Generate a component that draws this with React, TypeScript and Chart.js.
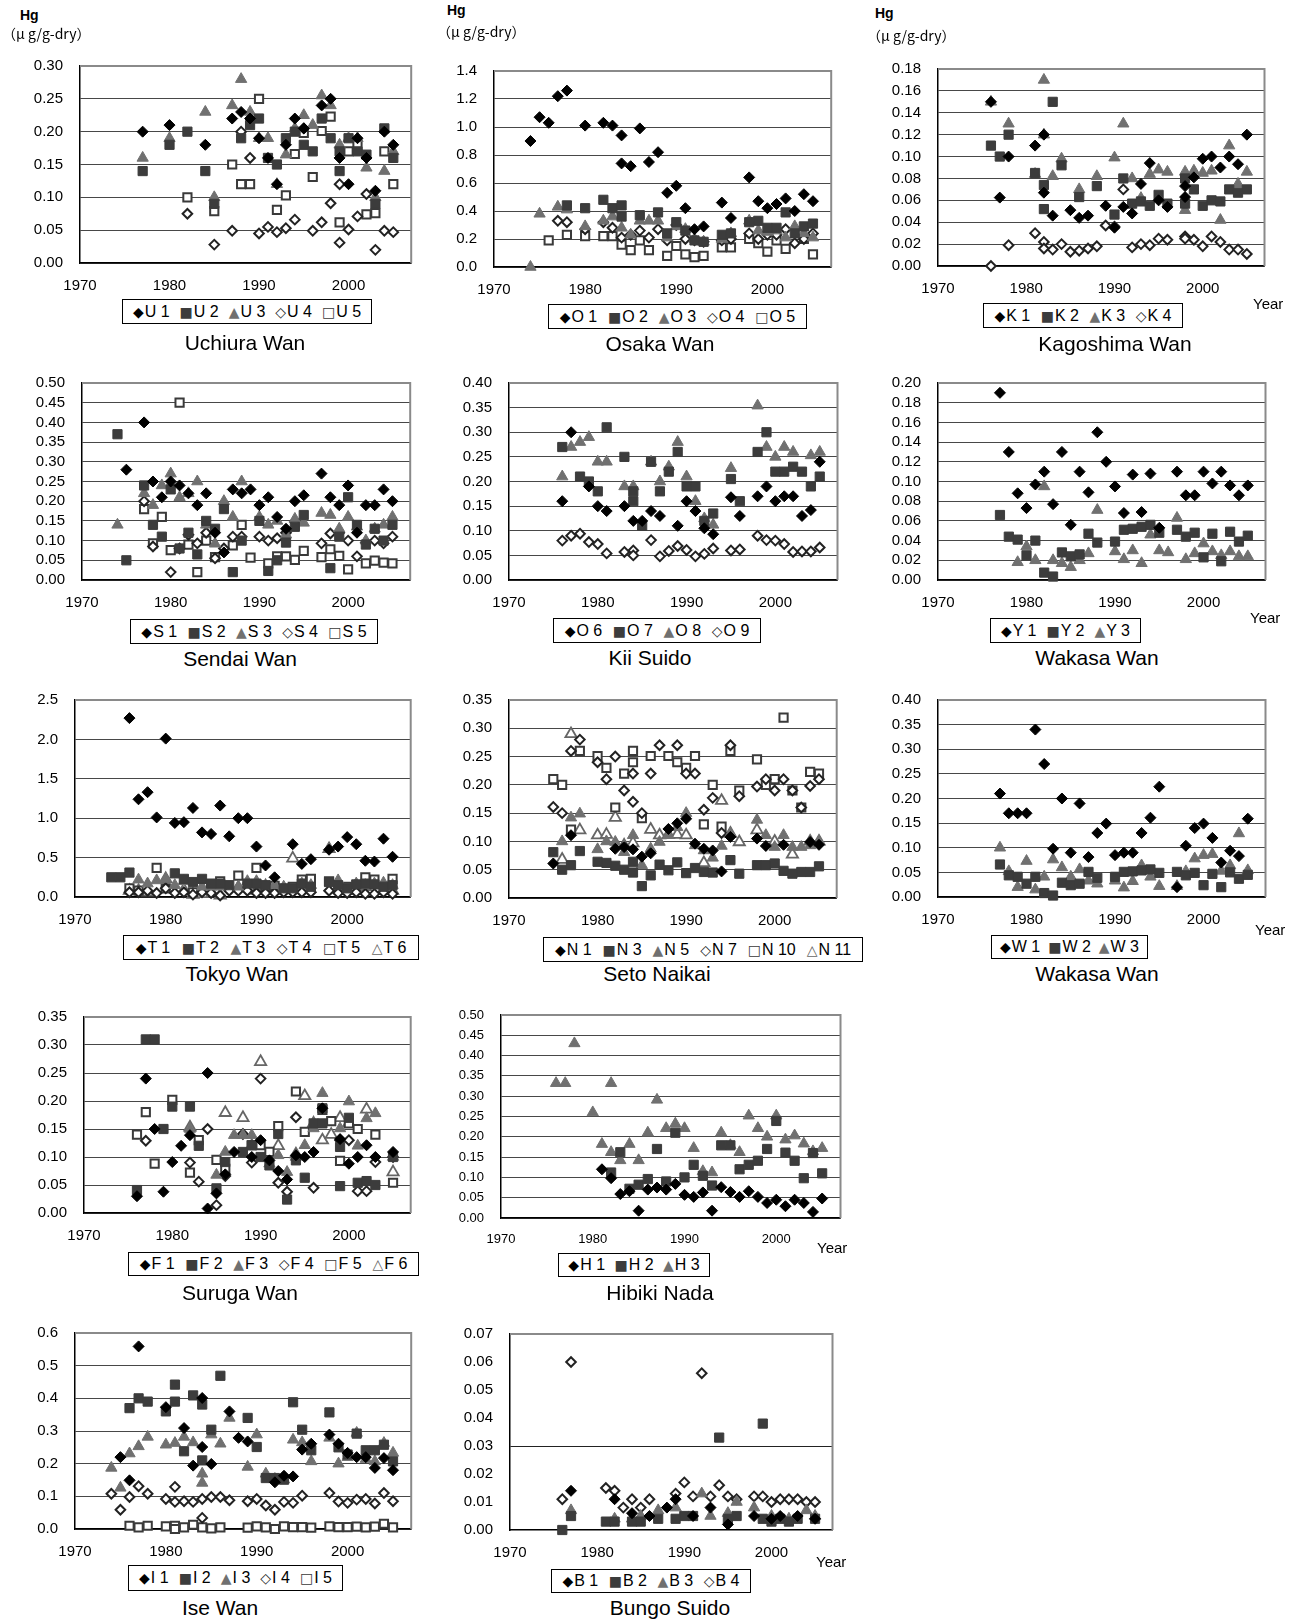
import React, { useEffect, useRef } from 'react';
import { Chart, registerables } from 'chart.js';

Chart.register(...registerables);

type Pt = [number, number];

// ---------- Uchiura Wan ----------
const U1: Pt[] = [[1977,0.20],[1980,0.21],[1984,0.18],[1987,0.22],[1988,0.23],[1989,0.22],[1990,0.19],[1991,0.16],[1992,0.12],[1993,0.18],[1994,0.22],[1995,0.205],[1997,0.24],[1998,0.25],[1999,0.16],[2000,0.12],[2001,0.19],[2002,0.16],[2003,0.11],[2004,0.20],[2005,0.18]];
const U2: Pt[] = [[1977,0.14],[1980,0.18],[1982,0.20],[1984,0.14],[1985,0.09],[1988,0.19],[1989,0.21],[1990,0.22],[1991,0.16],[1992,0.15],[1993,0.19],[1994,0.20],[1995,0.18],[1996,0.17],[1997,0.22],[1998,0.19],[1999,0.14],[1999,0.17],[2000,0.19],[2001,0.17],[2002,0.165],[2003,0.09],[2004,0.205],[2005,0.16]];
const U3: Pt[] = [[1977,0.16],[1980,0.19],[1984,0.23],[1985,0.10],[1987,0.24],[1988,0.28],[1989,0.23],[1990,0.19],[1991,0.19],[1992,0.12],[1993,0.165],[1994,0.205],[1995,0.225],[1996,0.21],[1997,0.255],[1998,0.24],[1999,0.18],[2000,0.19],[2001,0.19],[2002,0.145],[2003,0.10],[2004,0.14],[2005,0.17]];
const U4: Pt[] = [[1982,0.075],[1985,0.028],[1987,0.049],[1988,0.20],[1989,0.16],[1990,0.045],[1991,0.055],[1992,0.047],[1993,0.053],[1994,0.066],[1995,0.205],[1996,0.049],[1997,0.062],[1998,0.091],[1999,0.12],[1999,0.031],[2000,0.051],[2001,0.071],[2002,0.105],[2003,0.020],[2004,0.049],[2005,0.047]];
const U5: Pt[] = [[1982,0.10],[1985,0.079],[1987,0.15],[1988,0.12],[1989,0.12],[1990,0.25],[1992,0.081],[1993,0.103],[1994,0.166],[1995,0.198],[1996,0.131],[1997,0.201],[1998,0.223],[1999,0.062],[2000,0.17],[2001,0.18],[2002,0.074],[2003,0.076],[2004,0.17],[2005,0.12]];

// ---------- Osaka Wan ----------
const O1: Pt[] = [[1974,0.90],[1975,1.07],[1976,1.03],[1977,1.22],[1978,1.26],[1980,1.01],[1982,1.03],[1983,1.01],[1984,0.94],[1984,0.74],[1985,0.72],[1986,0.99],[1987,0.75],[1988,0.82],[1989,0.53],[1990,0.58],[1991,0.42],[1992,0.27],[1993,0.29],[1995,0.46],[1996,0.35],[1998,0.64],[1999,0.47],[2000,0.42],[2001,0.45],[2002,0.49],[2003,0.40],[2004,0.52],[2005,0.47]];
const O2: Pt[] = [[1978,0.44],[1980,0.42],[1982,0.48],[1983,0.42],[1984,0.44],[1984,0.36],[1986,0.37],[1988,0.39],[1989,0.24],[1990,0.32],[1991,0.26],[1992,0.19],[1993,0.18],[1995,0.23],[1996,0.24],[1998,0.32],[1999,0.33],[2000,0.28],[2001,0.28],[2002,0.39],[2003,0.24],[2004,0.29],[2005,0.31]];
const O3: Pt[] = [[1974,0.00],[1975,0.38],[1977,0.43],[1978,0.41],[1980,0.29],[1982,0.33],[1983,0.36],[1984,0.28],[1985,0.23],[1986,0.33],[1987,0.33],[1988,0.33],[1989,0.21],[1990,0.29],[1991,0.27],[1992,0.20],[1993,0.18],[1995,0.20],[1996,0.24],[1998,0.33],[1999,0.26],[2000,0.25],[2001,0.26],[2002,0.21],[2003,0.29],[2004,0.24],[2005,0.21]];
const O4: Pt[] = [[1977,0.33],[1978,0.32],[1980,0.27],[1982,0.32],[1983,0.28],[1984,0.21],[1985,0.23],[1986,0.26],[1987,0.21],[1988,0.27],[1989,0.19],[1990,0.30],[1991,0.20],[1992,0.19],[1993,0.18],[1995,0.19],[1996,0.20],[1998,0.24],[1999,0.20],[2000,0.23],[2001,0.23],[2002,0.27],[2003,0.17],[2004,0.20],[2005,0.24]];
const O5: Pt[] = [[1976,0.19],[1978,0.23],[1980,0.22],[1982,0.22],[1983,0.22],[1984,0.16],[1985,0.12],[1986,0.19],[1987,0.12],[1989,0.08],[1990,0.15],[1991,0.09],[1992,0.07],[1993,0.08],[1995,0.14],[1996,0.14],[1998,0.20],[1999,0.17],[2000,0.11],[2001,0.19],[2002,0.13],[2004,0.20],[2005,0.09]];

// ---------- Kagoshima Wan ----------
const K1: Pt[] = [[1976,0.15],[1977,0.0625],[1978,0.10],[1981,0.11],[1982,0.12],[1982,0.067],[1983,0.046],[1985,0.051],[1986,0.044],[1987,0.046],[1989,0.055],[1990,0.035],[1991,0.054],[1992,0.048],[1993,0.075],[1994,0.094],[1995,0.060],[1996,0.054],[1998,0.073],[1998,0.063],[1999,0.081],[2000,0.098],[2001,0.10],[2002,0.090],[2003,0.10],[2004,0.093],[2005,0.12]];
const K2: Pt[] = [[1976,0.11],[1977,0.10],[1978,0.12],[1981,0.085],[1982,0.074],[1982,0.052],[1983,0.15],[1984,0.092],[1986,0.063],[1988,0.073],[1990,0.047],[1991,0.080],[1992,0.057],[1993,0.059],[1994,0.055],[1995,0.065],[1996,0.057],[1998,0.057],[1998,0.080],[1999,0.070],[2000,0.055],[2001,0.060],[2002,0.059],[2003,0.070],[2004,0.067],[2005,0.070]];
const K3: Pt[] = [[1976,0.15],[1978,0.13],[1981,0.084],[1982,0.17],[1982,0.12],[1983,0.082],[1984,0.098],[1986,0.070],[1988,0.082],[1990,0.099],[1991,0.13],[1992,0.080],[1993,0.062],[1994,0.084],[1995,0.088],[1996,0.086],[1998,0.086],[1998,0.051],[1999,0.087],[2000,0.085],[2001,0.087],[2002,0.042],[2003,0.11],[2004,0.075],[2005,0.086]];
const K4: Pt[] = [[1976,0.00],[1978,0.019],[1981,0.030],[1982,0.022],[1982,0.016],[1983,0.015],[1984,0.020],[1985,0.013],[1986,0.014],[1987,0.016],[1988,0.018],[1989,0.037],[1990,0.036],[1991,0.070],[1992,0.017],[1993,0.020],[1994,0.019],[1995,0.025],[1996,0.024],[1998,0.027],[1998,0.025],[1999,0.024],[2000,0.018],[2001,0.027],[2002,0.022],[2003,0.015],[2004,0.015],[2005,0.011]];

// ---------- Sendai Wan ----------
const S1: Pt[] = [[1975,0.28],[1977,0.40],[1978,0.25],[1979,0.21],[1980,0.25],[1981,0.24],[1982,0.22],[1983,0.19],[1984,0.22],[1985,0.12],[1986,0.07],[1987,0.23],[1988,0.22],[1989,0.23],[1990,0.19],[1991,0.21],[1992,0.16],[1993,0.13],[1994,0.20],[1995,0.215],[1997,0.27],[1998,0.21],[1999,0.19],[2000,0.24],[2001,0.12],[2002,0.19],[2003,0.19],[2004,0.23],[2005,0.20]];
const S2: Pt[] = [[1974,0.37],[1975,0.05],[1977,0.24],[1978,0.14],[1979,0.11],[1980,0.23],[1981,0.08],[1982,0.12],[1983,0.065],[1984,0.15],[1985,0.13],[1986,0.18],[1987,0.02],[1988,0.10],[1990,0.15],[1991,0.023],[1992,0.05],[1993,0.095],[1994,0.135],[1995,0.165],[1998,0.03],[1999,0.11],[2000,0.21],[2001,0.14],[2002,0.09],[2003,0.13],[2004,0.10],[2005,0.14]];
const S3: Pt[] = [[1974,0.14],[1977,0.22],[1978,0.19],[1979,0.24],[1980,0.27],[1981,0.21],[1982,0.22],[1983,0.25],[1984,0.14],[1985,0.092],[1986,0.20],[1987,0.16],[1988,0.25],[1990,0.16],[1991,0.14],[1992,0.15],[1993,0.115],[1994,0.155],[1995,0.145],[1997,0.17],[1998,0.165],[1999,0.13],[2000,0.16],[2001,0.135],[2002,0.10],[2003,0.13],[2004,0.14],[2005,0.16]];
const S4: Pt[] = [[1977,0.20],[1978,0.085],[1980,0.02],[1981,0.08],[1982,0.115],[1983,0.093],[1984,0.12],[1985,0.055],[1986,0.08],[1987,0.11],[1988,0.11],[1990,0.11],[1991,0.10],[1992,0.106],[1993,0.12],[1994,0.148],[1997,0.093],[1998,0.118],[1999,0.12],[2000,0.10],[2001,0.06],[2002,0.095],[2003,0.10],[2004,0.093],[2005,0.11]];
const S5: Pt[] = [[1977,0.18],[1978,0.093],[1979,0.16],[1980,0.076],[1981,0.45],[1982,0.09],[1983,0.02],[1984,0.10],[1985,0.058],[1987,0.088],[1988,0.14],[1989,0.057],[1991,0.042],[1992,0.06],[1993,0.06],[1994,0.051],[1995,0.074],[1997,0.058],[1998,0.078],[1999,0.061],[2000,0.027],[2002,0.042],[2003,0.049],[2004,0.044],[2005,0.042]];

// ---------- Kii Suido ----------
const O6: Pt[] = [[1976,0.16],[1977,0.30],[1979,0.19],[1980,0.15],[1981,0.14],[1983,0.15],[1984,0.12],[1985,0.12],[1986,0.14],[1987,0.13],[1989,0.11],[1990,0.16],[1991,0.14],[1992,0.105],[1993,0.093],[1995,0.168],[1996,0.13],[1998,0.17],[1999,0.19],[2000,0.16],[2001,0.17],[2002,0.17],[2003,0.13],[2004,0.142],[2005,0.24]];
const O7: Pt[] = [[1976,0.27],[1978,0.21],[1979,0.20],[1980,0.18],[1981,0.31],[1983,0.25],[1984,0.16],[1984,0.18],[1985,0.11],[1986,0.24],[1987,0.18],[1988,0.22],[1989,0.26],[1990,0.19],[1991,0.19],[1992,0.12],[1993,0.135],[1995,0.205],[1996,0.16],[1998,0.26],[1999,0.30],[2000,0.22],[2001,0.22],[2002,0.23],[2003,0.22],[2004,0.19],[2005,0.21]];
const O8: Pt[] = [[1976,0.21],[1977,0.27],[1978,0.28],[1979,0.29],[1980,0.24],[1981,0.24],[1983,0.19],[1984,0.19],[1986,0.24],[1987,0.20],[1988,0.23],[1989,0.28],[1990,0.21],[1991,0.16],[1992,0.125],[1993,0.112],[1995,0.227],[1998,0.354],[1999,0.27],[2000,0.25],[2001,0.27],[2002,0.26],[2004,0.253],[2005,0.26]];
const O9: Pt[] = [[1976,0.08],[1977,0.09],[1978,0.094],[1979,0.077],[1980,0.073],[1981,0.054],[1983,0.057],[1984,0.06],[1984,0.05],[1986,0.081],[1987,0.048],[1988,0.059],[1989,0.069],[1990,0.061],[1991,0.048],[1992,0.053],[1993,0.064],[1995,0.06],[1996,0.062],[1998,0.09],[1999,0.081],[2000,0.08],[2001,0.073],[2002,0.057],[2003,0.058],[2004,0.058],[2005,0.066]];

// ---------- Wakasa Wan (Y) ----------
const Y1: Pt[] = [[1977,0.19],[1978,0.13],[1979,0.088],[1980,0.073],[1981,0.097],[1982,0.11],[1983,0.077],[1984,0.13],[1985,0.056],[1986,0.11],[1987,0.089],[1988,0.15],[1989,0.12],[1990,0.095],[1991,0.068],[1992,0.107],[1993,0.069],[1994,0.108],[1995,0.053],[1997,0.11],[1998,0.086],[1999,0.086],[2000,0.11],[2001,0.098],[2002,0.11],[2003,0.096],[2004,0.086],[2005,0.096]];
const Y2: Pt[] = [[1977,0.066],[1978,0.044],[1979,0.041],[1980,0.025],[1981,0.040],[1982,0.0075],[1983,0.0035],[1984,0.028],[1985,0.024],[1986,0.026],[1987,0.047],[1988,0.038],[1990,0.039],[1991,0.051],[1992,0.052],[1993,0.054],[1994,0.056],[1995,0.048],[1997,0.051],[1998,0.044],[1999,0.048],[2000,0.023],[2001,0.047],[2002,0.019],[2003,0.049],[2004,0.039],[2005,0.045]];
const Y3: Pt[] = [[1979,0.018],[1980,0.034],[1981,0.020],[1982,0.095],[1983,0.020],[1984,0.017],[1985,0.013],[1986,0.020],[1987,0.027],[1988,0.071],[1990,0.029],[1991,0.021],[1992,0.030],[1993,0.017],[1994,0.046],[1995,0.030],[1996,0.028],[1997,0.063],[1998,0.021],[1999,0.027],[2000,0.037],[2001,0.029],[2002,0.025],[2003,0.029],[2004,0.024],[2005,0.024]];

// ---------- Tokyo Wan ----------
const T1: Pt[] = [[1976,2.27],[1977,1.24],[1978,1.33],[1979,1.01],[1980,2.01],[1981,0.94],[1982,0.95],[1983,1.13],[1984,0.82],[1985,0.80],[1986,1.16],[1987,0.77],[1988,1.00],[1989,1.00],[1990,0.64],[1991,0.40],[1992,0.25],[1994,0.67],[1995,0.42],[1996,0.48],[1998,0.60],[1999,0.64],[2000,0.76],[2001,0.67],[2002,0.46],[2003,0.45],[2004,0.74],[2005,0.51]];
const T2: Pt[] = [[1974,0.25],[1975,0.25],[1976,0.31],[1981,0.30],[1982,0.23],[1983,0.19],[1984,0.23],[1985,0.17],[1986,0.17],[1987,0.15],[1989,0.17],[1990,0.17],[1991,0.15],[1993,0.11],[1994,0.11],[1995,0.17],[1996,0.13],[1998,0.19],[1999,0.15],[2000,0.11],[2001,0.16],[2002,0.17],[2003,0.16],[2004,0.13],[2005,0.15]];
const T3: Pt[] = [[1977,0.22],[1978,0.17],[1979,0.21],[1980,0.23],[1981,0.15],[1982,0.20],[1984,0.13],[1985,0.13],[1986,0.13],[1988,0.13],[1989,0.20],[1990,0.20],[1992,0.15],[1993,0.13],[1995,0.17],[1996,0.15],[1998,0.61],[1999,0.21],[2001,0.17],[2002,0.15],[2003,0.17],[2004,0.18],[2005,0.15]];
const T4: Pt[] = [[1976,0.06],[1977,0.06],[1978,0.08],[1979,0.05],[1980,0.11],[1981,0.05],[1982,0.06],[1983,0.03],[1984,0.06],[1985,0.05],[1986,0.02],[1987,0.08],[1988,0.08],[1989,0.08],[1990,0.05],[1991,0.05],[1992,0.05],[1993,0.06],[1994,0.06],[1995,0.06],[1996,0.06],[1998,0.08],[1999,0.05],[2000,0.05],[2001,0.06],[2002,0.04],[2003,0.04],[2004,0.06],[2005,0.04]];
const T5: Pt[] = [[1976,0.11],[1977,0.08],[1979,0.37],[1980,0.11],[1983,0.06],[1986,0.20],[1988,0.27],[1990,0.37],[1991,0.13],[1992,0.14],[1994,0.13],[1995,0.22],[1996,0.23],[1998,0.20],[2000,0.13],[2002,0.25],[2003,0.22],[2005,0.23]];
const T6: Pt[] = [[1976,0.08],[1977,0.08],[1978,0.06],[1980,0.23],[1982,0.09],[1983,0.03],[1984,0.04],[1986,0.02],[1988,0.12],[1990,0.08],[1991,0.14],[1992,0.08],[1994,0.49],[1995,0.11],[1998,0.61],[1999,0.12],[2000,0.08],[2002,0.13],[2003,0.17],[2004,0.08],[2005,0.08]];

// ---------- Seto Naikai ----------
const N1: Pt[] = [[1975,0.061],[1977,0.111],[1982,0.087],[1983,0.09],[1984,0.086],[1985,0.073],[1986,0.079],[1988,0.122],[1989,0.132],[1990,0.14],[1991,0.096],[1992,0.087],[1993,0.084],[1994,0.047],[1995,0.108],[1998,0.105],[1999,0.092],[2001,0.094],[2004,0.099],[2005,0.094]];
const N3: Pt[] = [[1975,0.081],[1976,0.050],[1977,0.058],[1978,0.083],[1980,0.064],[1981,0.062],[1982,0.057],[1983,0.050],[1984,0.064],[1984,0.045],[1985,0.021],[1986,0.040],[1987,0.059],[1988,0.049],[1989,0.063],[1990,0.044],[1991,0.053],[1992,0.046],[1993,0.045],[1995,0.067],[1996,0.043],[1998,0.058],[1999,0.058],[2000,0.061],[2001,0.048],[2002,0.043],[2003,0.046],[2004,0.046],[2005,0.056]];
const N5: Pt[] = [[1976,0.10],[1977,0.142],[1978,0.149],[1980,0.086],[1981,0.10],[1982,0.099],[1983,0.081],[1984,0.111],[1985,0.058],[1986,0.087],[1987,0.099],[1988,0.111],[1989,0.125],[1990,0.15],[1991,0.093],[1992,0.084],[1993,0.071],[1994,0.092],[1995,0.114],[1998,0.138],[1999,0.111],[2000,0.090],[2001,0.111],[2002,0.090],[2003,0.090],[2004,0.093],[2005,0.10]];
const N7: Pt[] = [[1975,0.161],[1976,0.15],[1977,0.26],[1978,0.28],[1980,0.24],[1981,0.21],[1982,0.25],[1983,0.19],[1984,0.17],[1984,0.22],[1985,0.15],[1986,0.22],[1987,0.27],[1989,0.27],[1990,0.22],[1991,0.22],[1992,0.156],[1993,0.177],[1994,0.115],[1995,0.27],[1996,0.18],[1998,0.197],[1999,0.21],[2000,0.19],[2001,0.21],[2002,0.19],[2003,0.16],[2004,0.198],[2005,0.21]];
const N10: Pt[] = [[1975,0.21],[1976,0.20],[1977,0.121],[1978,0.26],[1980,0.251],[1981,0.23],[1982,0.16],[1983,0.22],[1984,0.26],[1984,0.24],[1985,0.141],[1986,0.251],[1988,0.251],[1989,0.24],[1990,0.23],[1991,0.251],[1992,0.13],[1993,0.20],[1994,0.126],[1995,0.26],[1996,0.19],[1998,0.245],[1999,0.20],[2000,0.21],[2001,0.319],[2002,0.19],[2003,0.16],[2004,0.223],[2005,0.22]];
const N11: Pt[] = [[1976,0.068],[1977,0.29],[1978,0.12],[1980,0.111],[1981,0.112],[1982,0.142],[1983,0.093],[1984,0.097],[1986,0.121],[1987,0.111],[1988,0.112],[1989,0.112],[1990,0.111],[1992,0.062],[1994,0.172],[1995,0.114],[1996,0.099],[1998,0.12],[2000,0.10],[2002,0.077],[2004,0.10],[2005,0.10]];

// ---------- Wakasa Wan (W) ----------
const W1: Pt[] = [[1977,0.21],[1978,0.17],[1979,0.17],[1980,0.17],[1981,0.34],[1982,0.27],[1983,0.098],[1984,0.20],[1985,0.09],[1986,0.19],[1987,0.081],[1988,0.13],[1989,0.149],[1990,0.085],[1991,0.09],[1992,0.09],[1993,0.13],[1994,0.161],[1995,0.224],[1997,0.02],[1998,0.104],[1999,0.14],[2000,0.149],[2001,0.12],[2002,0.07],[2003,0.094],[2004,0.083],[2005,0.159]];
const W2: Pt[] = [[1977,0.066],[1978,0.044],[1979,0.041],[1980,0.027],[1981,0.041],[1982,0.008],[1983,0.003],[1984,0.029],[1985,0.024],[1986,0.027],[1987,0.051],[1988,0.039],[1990,0.041],[1991,0.051],[1992,0.052],[1993,0.054],[1994,0.056],[1995,0.049],[1997,0.051],[1998,0.044],[1999,0.049],[2000,0.024],[2001,0.047],[2002,0.02],[2003,0.05],[2004,0.037],[2005,0.045]];
const W3: Pt[] = [[1977,0.10],[1978,0.052],[1979,0.02],[1980,0.073],[1981,0.015],[1982,0.041],[1983,0.076],[1984,0.06],[1985,0.041],[1986,0.056],[1987,0.033],[1988,0.027],[1990,0.033],[1991,0.019],[1992,0.032],[1993,0.064],[1994,0.041],[1995,0.022],[1997,0.022],[1998,0.052],[1999,0.078],[2000,0.085],[2001,0.087],[2002,0.053],[2003,0.064],[2004,0.129],[2005,0.054]];

// ---------- Suruga Wan ----------
const F1: Pt[] = [[1976,0.03],[1977,0.24],[1978,0.15],[1979,0.038],[1980,0.091],[1981,0.12],[1982,0.139],[1984,0.25],[1984,0.008],[1985,0.035],[1986,0.069],[1987,0.109],[1989,0.10],[1990,0.13],[1991,0.094],[1992,0.075],[1993,0.06],[1994,0.103],[1995,0.10],[1996,0.109],[1997,0.187],[1999,0.132],[2000,0.088],[2001,0.10],[2002,0.121],[2003,0.10],[2005,0.109]];
const F2: Pt[] = [[1976,0.041],[1977,0.31],[1978,0.31],[1979,0.15],[1980,0.19],[1982,0.19],[1983,0.12],[1985,0.044],[1986,0.091],[1988,0.109],[1989,0.121],[1990,0.10],[1991,0.085],[1992,0.141],[1993,0.024],[1994,0.094],[1995,0.063],[1996,0.16],[1997,0.16],[1997,0.187],[1999,0.048],[1999,0.118],[2000,0.17],[2001,0.054],[2002,0.057],[2003,0.05],[2005,0.10]];
const F3: Pt[] = [[1982,0.15],[1985,0.068],[1986,0.109],[1987,0.139],[1988,0.139],[1989,0.139],[1991,0.088],[1992,0.103],[1993,0.073],[1994,0.10],[1995,0.121],[1996,0.151],[1997,0.214],[1999,0.151],[2000,0.199],[2001,0.12],[2002,0.169],[2003,0.178],[2005,0.10]];
const F4: Pt[] = [[1977,0.129],[1982,0.09],[1983,0.056],[1984,0.15],[1985,0.014],[1986,0.066],[1988,0.141],[1989,0.09],[1990,0.24],[1992,0.054],[1993,0.038],[1994,0.171],[1996,0.045],[1999,0.13],[2000,0.13],[2001,0.039],[2002,0.039],[2003,0.091],[2005,0.10]];
const F5: Pt[] = [[1976,0.14],[1977,0.18],[1978,0.088],[1980,0.202],[1982,0.072],[1983,0.13],[1985,0.095],[1986,0.079],[1989,0.121],[1990,0.121],[1991,0.109],[1992,0.155],[1994,0.217],[1995,0.145],[1997,0.184],[1998,0.164],[1999,0.093],[2000,0.16],[2001,0.15],[2003,0.14],[2005,0.054]];
const F6: Pt[] = [[1982,0.153],[1986,0.179],[1988,0.17],[1989,0.12],[1990,0.27],[1992,0.12],[1994,0.105],[1995,0.209],[1996,0.16],[1997,0.13],[1998,0.14],[1999,0.17],[2000,0.161],[2002,0.185],[2005,0.073]];

// ---------- Hibiki Nada ----------
const H1: Pt[] = [[1981,0.12],[1982,0.098],[1983,0.059],[1984,0.066],[1985,0.018],[1986,0.07],[1987,0.075],[1988,0.07],[1989,0.084],[1990,0.057],[1991,0.052],[1992,0.063],[1993,0.018],[1994,0.076],[1995,0.064],[1996,0.052],[1997,0.066],[1998,0.052],[1999,0.037],[2000,0.045],[2001,0.029],[2002,0.045],[2003,0.037],[2004,0.015],[2005,0.048]];
const H2: Pt[] = [[1982,0.112],[1983,0.162],[1984,0.072],[1985,0.082],[1986,0.096],[1987,0.17],[1988,0.09],[1989,0.21],[1990,0.10],[1991,0.131],[1992,0.104],[1993,0.08],[1994,0.179],[1995,0.179],[1996,0.12],[1997,0.131],[1998,0.141],[1999,0.17],[2000,0.239],[2001,0.161],[2002,0.141],[2003,0.098],[2004,0.16],[2005,0.11]];
const H3: Pt[] = [[1976,0.332],[1977,0.332],[1978,0.43],[1980,0.26],[1981,0.182],[1982,0.332],[1982,0.162],[1983,0.142],[1984,0.182],[1985,0.142],[1986,0.21],[1987,0.291],[1988,0.221],[1989,0.232],[1990,0.221],[1991,0.172],[1992,0.115],[1993,0.112],[1994,0.21],[1995,0.179],[1996,0.162],[1997,0.252],[1998,0.221],[1999,0.20],[2000,0.252],[2001,0.193],[2002,0.203],[2003,0.183],[2004,0.164],[2005,0.172]];

// ---------- Ise Wan ----------
const I1: Pt[] = [[1975,0.22],[1976,0.149],[1977,0.559],[1980,0.373],[1982,0.309],[1983,0.194],[1984,0.401],[1984,0.251],[1985,0.199],[1987,0.36],[1988,0.279],[1989,0.268],[1992,0.143],[1993,0.163],[1994,0.161],[1995,0.243],[1996,0.261],[1998,0.289],[1999,0.261],[2000,0.233],[2001,0.22],[2002,0.22],[2003,0.187],[2004,0.217],[2005,0.18]];
const I2: Pt[] = [[1976,0.37],[1977,0.40],[1978,0.39],[1980,0.36],[1981,0.442],[1981,0.39],[1982,0.238],[1983,0.409],[1984,0.381],[1984,0.21],[1985,0.304],[1986,0.469],[1989,0.34],[1990,0.251],[1991,0.156],[1992,0.156],[1993,0.151],[1994,0.388],[1995,0.304],[1996,0.241],[1998,0.357],[1999,0.25],[2000,0.228],[2001,0.292],[2002,0.241],[2003,0.241],[2004,0.258],[2005,0.207]];
const I3: Pt[] = [[1974,0.187],[1975,0.126],[1976,0.231],[1977,0.253],[1978,0.282],[1980,0.258],[1981,0.263],[1982,0.282],[1983,0.265],[1984,0.169],[1984,0.141],[1985,0.289],[1986,0.261],[1987,0.34],[1989,0.19],[1990,0.289],[1991,0.169],[1992,0.153],[1993,0.151],[1994,0.273],[1995,0.265],[1996,0.207],[1998,0.279],[1999,0.20],[2000,0.22],[2001,0.294],[2002,0.214],[2003,0.207],[2004,0.263],[2005,0.233]];
const I4: Pt[] = [[1974,0.108],[1975,0.059],[1976,0.098],[1977,0.131],[1978,0.108],[1980,0.092],[1981,0.129],[1981,0.083],[1982,0.085],[1983,0.083],[1984,0.092],[1984,0.034],[1985,0.098],[1986,0.098],[1987,0.088],[1989,0.085],[1990,0.092],[1991,0.072],[1992,0.059],[1993,0.083],[1994,0.08],[1995,0.102],[1998,0.11],[1999,0.084],[2000,0.08],[2001,0.09],[2002,0.092],[2003,0.078],[2004,0.11],[2005,0.085]];
const I5: Pt[] = [[1976,0.010],[1977,0.005],[1978,0.010],[1980,0.008],[1981,0.010],[1981,0.000],[1982,0.005],[1983,0.013],[1984,0.005],[1985,0.002],[1986,0.005],[1989,0.004],[1990,0.008],[1991,0.005],[1992,0.000],[1993,0.008],[1994,0.006],[1995,0.006],[1996,0.004],[1998,0.008],[1999,0.006],[2000,0.006],[2001,0.007],[2002,0.005],[2003,0.007],[2004,0.016],[2005,0.005]];

// ---------- Bungo Suido ----------
const B1: Pt[] = [[1977,0.014],[1982,0.011],[1984,0.006],[1986,0.005],[1988,0.008],[1989,0.011],[1991,0.005],[1993,0.008],[1995,0.002],[1998,0.005],[2000,0.004],[2001,0.005],[2003,0.005],[2005,0.004]];
const B2: Pt[] = [[1976,0.000],[1977,0.005],[1981,0.003],[1982,0.003],[1984,0.003],[1985,0.003],[1987,0.004],[1989,0.004],[1990,0.005],[1991,0.005],[1994,0.033],[1995,0.004],[1996,0.005],[1999,0.038],[1999,0.004],[2000,0.003],[2001,0.004],[2002,0.003],[2003,0.004],[2005,0.004]];
const B3: Pt[] = [[1977,0.007],[1982,0.004],[1984,0.004],[1985,0.005],[1987,0.007],[1989,0.008],[1992,0.013],[1993,0.005],[1995,0.006],[1996,0.010],[1998,0.008],[2000,0.005],[2002,0.004],[2004,0.007],[2005,0.005]];
const B4: Pt[] = [[1976,0.011],[1977,0.060],[1981,0.015],[1982,0.014],[1983,0.008],[1984,0.011],[1985,0.008],[1986,0.011],[1989,0.013],[1990,0.017],[1991,0.012],[1992,0.056],[1993,0.012],[1994,0.016],[1995,0.012],[1996,0.011],[1998,0.012],[1999,0.012],[2000,0.010],[2001,0.011],[2002,0.011],[2003,0.011],[2004,0.010],[2005,0.010]];

const X_MIN = 1970;
const X_MAX = 2007;
const X_STEP = 10;

const FONT = '"Liberation Sans", Arial, sans-serif';
const YW = 60;
const PAD_T = 30;
const PAD_R = 3;
const XH = 36;

const MARKERS = [
  { pointStyle: 'rectRot', radius: 5.5, bg: '#000000', border: '#000000', bw: 1 },
  { pointStyle: 'rect', radius: 6.5, bg: '#3c3c3c', border: '#3c3c3c', bw: 1 },
  { pointStyle: 'triangle', radius: 6.5, bg: '#707070', border: '#707070', bw: 1 },
  { pointStyle: 'rectRot', radius: 4.8, bg: '#ffffff', border: '#222222', bw: 2 },
  { pointStyle: 'rect', radius: 5.8, bg: '#ffffff', border: '#3a3a3a', bw: 2 },
  { pointStyle: 'triangle', radius: 6.5, bg: '#ffffff', border: '#666666', bw: 1.8 },
];
const GLYPHS = ['\u25C6', '\u25A0', '\u25B2', '\u25C7', '\u25A1', '\u25B3'];
const GLYPH_COLORS = ['#000', '#3c3c3c', '#707070', '#222', '#3a3a3a', '#666'];

interface PanelDef {
  title: string;
  names: string[];
  series: Pt[][];
  yMax: number;
  yStep: number;
  dec: number;
  plot: [number, number, number, number];
  legend: [number, number, number, number];
  titleAt: [number, number];
  font?: number;
  year?: [number, number];
  hg?: [number, number, number, number];
  onlyLine?: number;
}

const PANELS: PanelDef[] = [
  { title: 'Uchiura Wan', names: ['U 1', 'U 2', 'U 3', 'U 4', 'U 5'], series: [U1, U2, U3, U4, U5], yMax: 0.30, yStep: 0.05, dec: 2, plot: [80, 66, 416, 263], legend: [122, 299, 250, 25], titleAt: [245, 342], hg: [20, 15, 2, 33] },
  { title: 'Osaka Wan', names: ['O 1', 'O 2', 'O 3', 'O 4', 'O 5'], series: [O1, O2, O3, O4, O5], yMax: 1.4, yStep: 0.2, dec: 1, plot: [494, 71, 836, 267], legend: [548, 304, 259, 25], titleAt: [660, 343], hg: [447, 10, 437, 31] },
  { title: 'Kagoshima Wan', names: ['K 1', 'K 2', 'K 3', 'K 4'], series: [K1, K2, K3, K4], yMax: 0.18, yStep: 0.02, dec: 2, plot: [938, 69, 1269, 266], legend: [983, 303, 200, 25], titleAt: [1115, 343], year: [1253, 303], hg: [875, 13, 867, 35] },
  { title: 'Sendai Wan', names: ['S 1', 'S 2', 'S 3', 'S 4', 'S 5'], series: [S1, S2, S3, S4, S5], yMax: 0.50, yStep: 0.05, dec: 2, plot: [82, 383, 415, 580], legend: [130, 619, 248, 25], titleAt: [240, 658] },
  { title: 'Kii Suido', names: ['O 6', 'O 7', 'O 8', 'O 9'], series: [O6, O7, O8, O9], yMax: 0.40, yStep: 0.05, dec: 2, plot: [509, 383, 842, 580], legend: [553, 618, 208, 25], titleAt: [650, 657] },
  { title: 'Wakasa Wan', names: ['Y 1', 'Y 2', 'Y 3'], series: [Y1, Y2, Y3], yMax: 0.20, yStep: 0.02, dec: 2, plot: [938, 383, 1270, 580], legend: [990, 618, 151, 25], titleAt: [1097, 657], year: [1250, 617] },
  { title: 'Tokyo Wan', names: ['T 1', 'T 2', 'T 3', 'T 4', 'T 5', 'T 6'], series: [T1, T2, T3, T4, T5, T6], yMax: 2.5, yStep: 0.5, dec: 1, plot: [75, 700, 416, 897], legend: [123, 935, 296, 25], titleAt: [237, 973] },
  { title: 'Seto Naikai', names: ['N 1', 'N 3', 'N 5', 'N 7', 'N 10', 'N 11'], series: [N1, N3, N5, N7, N10, N11], yMax: 0.35, yStep: 0.05, dec: 2, plot: [509, 700, 842, 898], legend: [543, 937, 320, 25], titleAt: [657, 973] },
  { title: 'Wakasa Wan', names: ['W 1', 'W 2', 'W 3'], series: [W1, W2, W3], yMax: 0.40, yStep: 0.05, dec: 2, plot: [938, 700, 1270, 897], legend: [991, 935, 157, 24], titleAt: [1097, 973], year: [1255, 929] },
  { title: 'Suruga Wan', names: ['F 1', 'F 2', 'F 3', 'F 4', 'F 5', 'F 6'], series: [F1, F2, F3, F4, F5, F6], yMax: 0.35, yStep: 0.05, dec: 2, plot: [84, 1017, 416, 1213], legend: [128, 1252, 291, 24], titleAt: [240, 1292] },
  { title: 'Hibiki Nada', names: ['H 1', 'H 2', 'H 3'], series: [H1, H2, H3], yMax: 0.50, yStep: 0.05, dec: 2, plot: [501, 1015, 845, 1218], legend: [558, 1253, 152, 24], titleAt: [660, 1292], font: 13, year: [817, 1247] },
  { title: 'Ise Wan', names: ['I 1', 'I 2', 'I 3', 'I 4', 'I 5'], series: [I1, I2, I3, I4, I5], yMax: 0.6, yStep: 0.1, dec: 1, plot: [75, 1333, 416, 1529], legend: [128, 1565, 215, 26], titleAt: [220, 1607] },
  { title: 'Bungo Suido', names: ['B 1', 'B 2', 'B 3', 'B 4'], series: [B1, B2, B3, B4], yMax: 0.07, yStep: 0.01, dec: 2, plot: [510, 1334, 837, 1530], legend: [551, 1569, 200, 24], titleAt: [670, 1607], year: [816, 1561], onlyLine: 0.03 },
];

const framePlugin = {
  id: 'plotFrame',
  beforeDatasetsDraw(chart: any) {
    const { ctx, chartArea } = chart;
    const { left, top, right, bottom } = chartArea;
    ctx.save();
    ctx.strokeStyle = '#8a8a8a';
    ctx.lineWidth = 2;
    ctx.beginPath();
    ctx.moveTo(left, top);
    ctx.lineTo(right, top);
    ctx.lineTo(right, bottom);
    ctx.stroke();
    ctx.restore();
  },
};

function Panel({ def }: { def: PanelDef }) {
  const ref = useRef<HTMLCanvasElement>(null);
  const [L, T, R, B] = def.plot;
  const width = R - L + YW + PAD_R;
  const height = B - T + PAD_T + XH;
  const fs = def.font ?? 15;

  useEffect(() => {
    if (!ref.current) return;
    const gridColor = (c: any) => {
      if (def.onlyLine === undefined) return '#474747';
      const v = c.tick ? c.tick.value : 0;
      return Math.abs(v - def.onlyLine) < 1e-6 ? '#222222' : 'rgba(0,0,0,0)';
    };
    const chart = new Chart(ref.current, {
      type: 'scatter',
      data: {
        datasets: def.series.map((s, i) => {
          const m = MARKERS[i];
          return {
            label: def.names[i],
            data: s.map(([x, y]) => ({ x, y })),
            pointStyle: m.pointStyle as any,
            pointRadius: m.radius,
            pointBackgroundColor: m.bg,
            pointBorderColor: m.border,
            pointBorderWidth: m.bw,
            backgroundColor: m.bg,
            borderColor: m.border,
            showLine: false,
            clip: false as any,
          };
        }),
      },
      options: {
        animation: false,
        responsive: false,
        devicePixelRatio: 1,
        layout: { padding: { top: PAD_T, right: PAD_R, left: 0, bottom: 0 } },
        plugins: {
          legend: { display: false },
          tooltip: { enabled: false },
          title: { display: false },
        },
        scales: {
          x: {
            type: 'linear',
            position: 'bottom',
            min: X_MIN,
            max: X_MAX,
            ticks: {
              stepSize: X_STEP,
              includeBounds: false,
              padding: 14,
              color: '#000',
              maxRotation: 0,
              autoSkip: false,
              font: { family: FONT, size: fs },
              callback: (v: any) => String(v),
            },
            grid: { display: false, drawTicks: false },
            border: { display: true, color: '#000', width: 1.5 },
            afterFit: (s: any) => { s.height = XH; },
          },
          y: {
            type: 'linear',
            position: 'left',
            min: 0,
            max: def.yMax,
            ticks: {
              stepSize: def.yStep,
              padding: 17,
              color: '#000',
              autoSkip: false,
              font: { family: FONT, size: fs },
              callback: (v: any) => Number(v).toFixed(def.dec),
            },
            grid: { color: gridColor, lineWidth: 1, drawTicks: false },
            border: { display: true, color: '#000', width: 1.5 },
            afterFit: (s: any) => { s.width = YW; },
          },
        },
      } as any,
      plugins: [framePlugin],
    });
    return () => chart.destroy();
  }, []);

  const [lx, ly, lw, lh] = def.legend;
  return (
    <>
      <canvas
        ref={ref}
        width={width}
        height={height}
        style={{ position: 'absolute', left: L - YW, top: T - PAD_T, width, height }}
      />
      <div
        style={{
          position: 'absolute', left: lx, top: ly, width: lw, height: lh,
          border: '1px solid #000', boxSizing: 'border-box', background: '#fff',
          display: 'flex', alignItems: 'center', justifyContent: 'space-evenly',
          fontFamily: FONT, fontSize: 16, color: '#000', zIndex: 2,
        }}
      >
        {def.names.map((n, i) => (
          <span key={i} style={{ whiteSpace: 'nowrap', lineHeight: 1 }}>
            <span style={{ color: GLYPH_COLORS[i], fontFamily: '"DejaVu Sans", sans-serif', fontSize: 14, marginRight: 1 }}>{GLYPHS[i]}</span>
            {n}
          </span>
        ))}
      </div>
      <div
        style={{
          position: 'absolute', left: def.titleAt[0], top: def.titleAt[1],
          transform: 'translate(-50%, -50%)', fontFamily: FONT, fontSize: 21,
          whiteSpace: 'nowrap', lineHeight: 1, color: '#000', zIndex: 2,
        }}
      >
        {def.title}
      </div>
      {def.year && (
        <div
          style={{
            position: 'absolute', left: def.year[0], top: def.year[1],
            transform: 'translateY(-50%)', fontFamily: FONT, fontSize: 15,
            lineHeight: 1, color: '#000', zIndex: 2,
          }}
        >
          Year
        </div>
      )}
      {def.hg && (
        <>
          <div
            style={{
              position: 'absolute', left: def.hg[0], top: def.hg[1],
              transform: 'translateY(-50%)', fontFamily: FONT, fontSize: 14,
              fontWeight: 'bold', lineHeight: 1, color: '#000', zIndex: 2,
            }}
          >
            Hg
          </div>
          <div
            style={{
              position: 'absolute', left: def.hg[2], top: def.hg[3],
              transform: 'translateY(-50%)', fontFamily: '"Noto Sans CJK JP", sans-serif', fontSize: 14,
              lineHeight: 1, color: '#000', whiteSpace: 'nowrap', zIndex: 2,
            }}
          >
            （μ g/g-dry）
          </div>
        </>
      )}
    </>
  );
}

export default function App() {
  return (
    <div style={{ position: 'absolute', left: 0, top: 0, width: 1301, height: 1620, background: '#fff', overflow: 'hidden' }}>
      {PANELS.map((p, i) => (
        <Panel key={i} def={p} />
      ))}
    </div>
  );
}
